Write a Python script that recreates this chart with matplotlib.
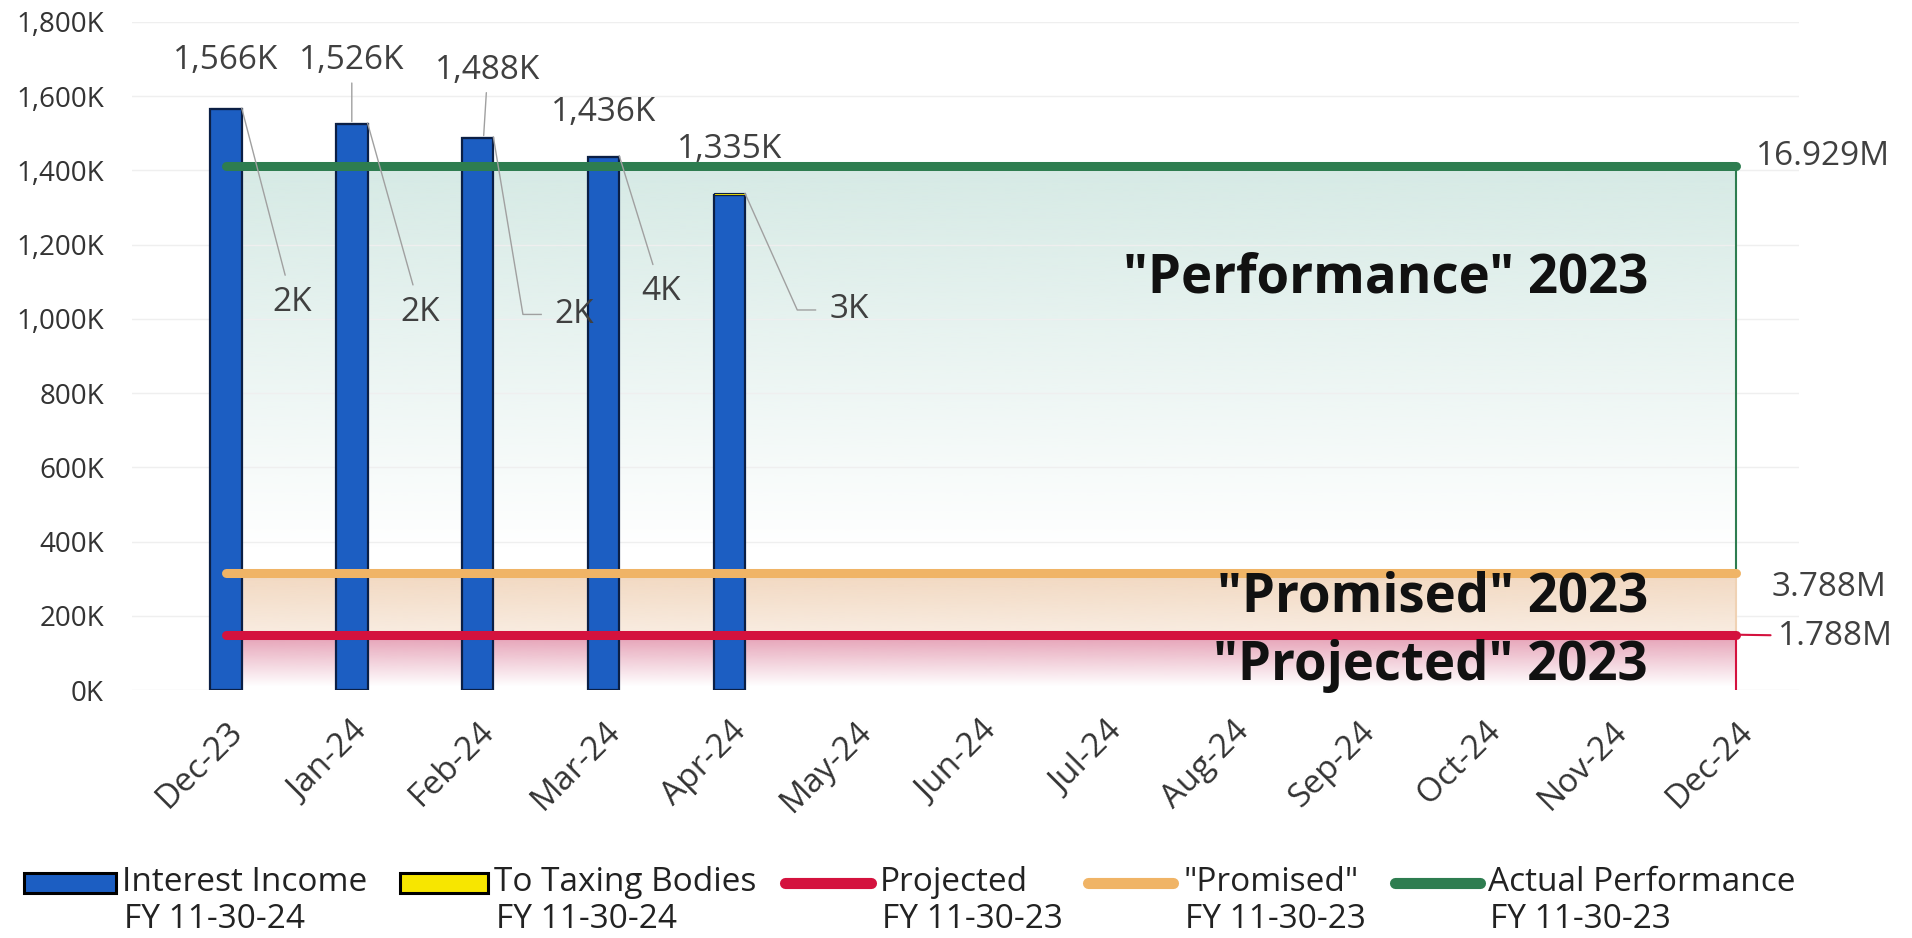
import numpy as np
import matplotlib
matplotlib.use("Agg")
import matplotlib.pyplot as plt
from matplotlib.colors import to_rgb
from matplotlib.patches import Rectangle
from matplotlib.lines import Line2D
from matplotlib.ticker import FuncFormatter

plt.rcParams['font.family'] = ['Open Sans', 'DejaVu Sans']

# ---- data (thousands of dollars) ----
months = ["Dec-23", "Jan-24", "Feb-24", "Mar-24", "Apr-24", "May-24", "Jun-24",
          "Jul-24", "Aug-24", "Sep-24", "Oct-24", "Nov-24", "Dec-24"]
interest_income = [1566, 1526, 1488, 1436, 1335]
to_taxing_bodies = [2, 2, 2, 4, 3]
# FY 11-30-23 annual totals, in millions
projected_total = 1.788
promised_total = 3.788
actual_total = 16.929

legend_labels = ["Interest Income\nFY 11-30-24", "To Taxing Bodies\nFY 11-30-24",
                 "Projected\nFY 11-30-23", "\"Promised\"\nFY 11-30-23",
                 "Actual Performance\nFY 11-30-23"]

# monthly level of each annual figure (K)
projected_month = projected_total * 1000 / 12
promised_month = promised_total * 1000 / 12
actual_month = actual_total * 1000 / 12

BLUE = "#1c5ec2"
YELLOW = "#f7e600"
RED = "#d4123e"
ORANGE = "#f0b466"
GREEN = "#2e7d50"
TXT = "#404040"
LEAD = "#a0a0a0"

W, H = 1912, 938
fig = plt.figure(figsize=(W / 100, H / 100), dpi=100)
ax = fig.add_axes([131.6 / W, 248 / H, 1667.3 / W, 668 / H])

x = np.arange(len(months))
xb = x[:len(interest_income)]
last = x[-1]


def gradient_area(top, color, a_top, fade_at, z, a_min=0.0):
    # vertical gradient fill from 0 up to `top`
    n = 300
    ys = np.linspace(0, top, n)
    alpha = np.clip((ys - fade_at) / (top - fade_at), 0, 1) * (a_top - a_min) + a_min
    img = np.zeros((n, 1, 4))
    img[..., :3] = to_rgb(color)
    img[..., 3] = alpha[:, None]
    ax.imshow(img, extent=[x[0], last, 0, top], origin="lower",
              aspect="auto", zorder=z, interpolation="bilinear")


gradient_area(actual_month, "#d6eae5", 1.0, 380, 0.5)
ax.fill_between([x[0], last], 0, promised_month, color="white", zorder=0.55)
gradient_area(promised_month, "#f2d8c0", 1.0, 0, 0.6)
ax.fill_between([x[0], last], 0, projected_month, color="white", zorder=0.65)
gradient_area(projected_month, "#e59db3", 1.0, 10, 0.7)

# right-hand area edges
ax.vlines(last, promised_month, actual_month, color=GREEN, lw=1.5, zorder=0.8)
ax.vlines(last, projected_month, promised_month, color="#f0d2b4", lw=1.5, zorder=0.8)
ax.vlines(last, 0, projected_month, color=RED, lw=1.5, zorder=0.8)

# bars
ax.bar(xb, interest_income, width=0.25, color=BLUE, edgecolor="#0b1f45",
       lw=1.6, zorder=2)
ax.bar(xb, to_taxing_bodies, bottom=interest_income, width=0.25, color=YELLOW,
       edgecolor="#0b1f45", lw=0.8, zorder=2)

# level lines
lvl_x = [x[0], last]
ax.plot(lvl_x, [actual_month] * 2, color=GREEN, lw=6.5, solid_capstyle="round", zorder=3)
ax.plot(lvl_x, [promised_month] * 2, color=ORANGE, lw=6.5, solid_capstyle="round", zorder=3)
ax.plot(lvl_x, [projected_month] * 2, color=RED, lw=6.5, solid_capstyle="round", zorder=3)

# labels for interest income
lead = dict(arrowstyle="-", color=LEAD, lw=1.0, shrinkA=2, shrinkB=0)
blue_off = [(0, 129, False), (0, 169, True), (0.08, 181, True), (0, 121, False), (0, 121, False)]
for i, v in enumerate(interest_income):
    dx, dy, has_lead = blue_off[i]
    ax.annotate(f"{v:,}K", xy=(xb[i] + dx * 0.6, v + 6), xytext=(xb[i] + dx, v + dy),
                ha="center", va="center", fontsize=24, color=TXT, zorder=1.5,
                arrowprops=lead if has_lead else None)

# labels for taxing bodies with leader lines
small_pos = [(0.527, 1044, False), (1.547, 1018, False), (2.77, 1012, True),
             (3.46, 1073, False), (4.95, 1024, True)]
for i, v in enumerate(to_taxing_bodies):
    lx, ly, elbow = small_pos[i]
    top = interest_income[i] + v
    tip = (xb[i] + 0.125, top)
    if elbow:
        ax.plot([tip[0], lx - 0.41, lx - 0.265], [tip[1], ly, ly],
                color=LEAD, lw=1.0, zorder=4)
        ax.text(lx, ly, f"{v}K", ha="center", va="center", fontsize=24,
                color=TXT, zorder=4)
    else:
        ax.annotate(f"{v}K", xy=tip, xytext=(lx, ly),
                    ha="center", va="center", fontsize=24, color=TXT, zorder=4,
                    arrowprops=dict(lead, shrinkA=6))

# totals at the right
ax.text(12.16, 1438, f"{actual_total:.3f}M", ha="left", va="center", fontsize=24, color=TXT)
ax.text(12.28, 276, f"{promised_total:.3f}M", ha="left", va="center", fontsize=24, color=TXT)
ax.annotate(f"{projected_total:.3f}M", xy=(last, projected_month), xytext=(12.33, 145),
            ha="left", va="center", fontsize=24, color=TXT, annotation_clip=False,
            arrowprops=dict(arrowstyle="-", color=RED, lw=1.5, shrinkA=3, shrinkB=0))

# region titles
title_kw = dict(ha="right", va="center", fontsize=38, fontweight="bold",
                color="#111111", zorder=5)
ax.text(11.3, 1108, "\"Performance\" 2023", **title_kw)
ax.text(11.3, 250, "\"Promised\" 2023", **title_kw)
ax.text(11.3, 66, "\"Projected\" 2023", **title_kw)

# axes styling
ax.set_xlim(-0.75, 12.5)
ax.set_ylim(0, 1800)
ax.set_yticks(np.arange(0, 1801, 200))
ax.yaxis.set_major_formatter(FuncFormatter(lambda v, p: f"{int(v):,}K"))
ax.set_xticks(x)
ax.set_xticklabels(months, rotation=45, ha="right", va="top", rotation_mode="anchor")
ax.tick_params(axis="both", length=0, labelcolor="#333333")
ax.tick_params(axis="x", pad=18, labelsize=24)
ax.tick_params(axis="y", pad=20, labelsize=20)
ax.grid(axis="y", color="#efefef", lw=1)
ax.set_axisbelow(True)
for s in ax.spines.values():
    s.set_visible(False)


# legend drawn in pixel positions
def fx(px):
    return px / W


def fy(py):
    return 1 - py / H


handles = [("rect", BLUE, 24, 116, 122), ("rect", YELLOW, 400, 488, 494),
           ("line", RED, 780, 876, 880), ("line", ORANGE, 1083, 1178, 1183),
           ("line", GREEN, 1390, 1485, 1488)]
for (kind, col, x0, x1, tx), lab in zip(handles, legend_labels):
    if kind == "rect":
        fig.add_artist(Rectangle((fx(x0), fy(893)), fx(x1 - x0), (20 / H),
                                 transform=fig.transFigure, facecolor=col,
                                 edgecolor="black", lw=2.2))
    else:
        fig.add_artist(Line2D([fx(x0 + 5), fx(x1 - 5)], [fy(883), fy(883)],
                              transform=fig.transFigure, color=col, lw=8,
                              solid_capstyle="round"))
    l1, l2 = lab.split("\n")
    fig.text(fx(tx), fy(882), l1, ha="left", va="center", fontsize=24, color="#222222")
    fig.text(fx(tx + 2), fy(919), l2, ha="left", va="center", fontsize=24, color="#222222")

fig.savefig("out.png", dpi=100, facecolor="white")
